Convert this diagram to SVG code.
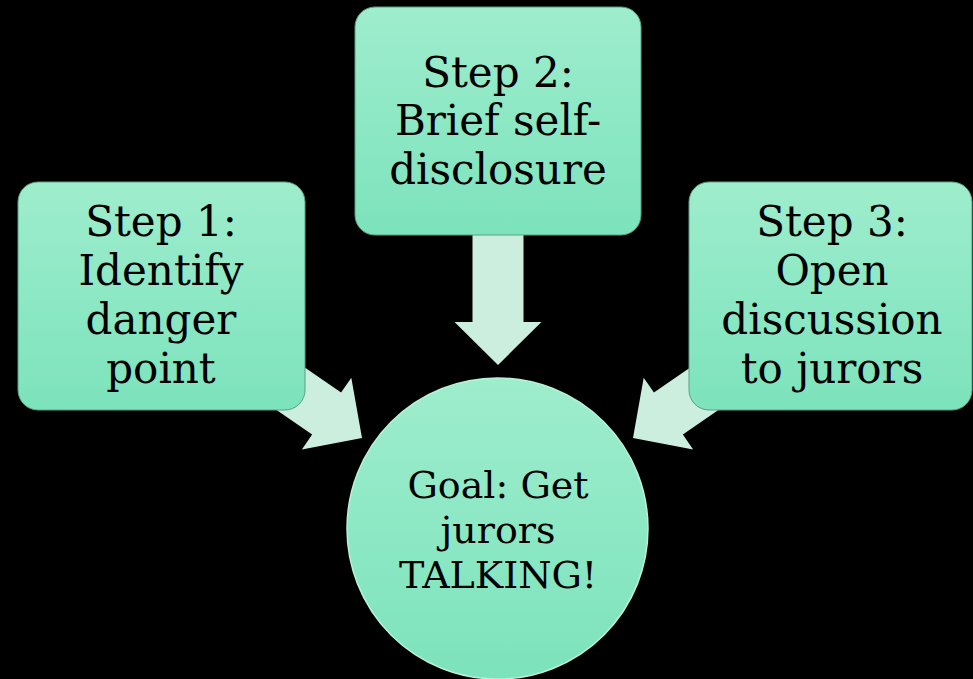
<svg xmlns="http://www.w3.org/2000/svg" width="973" height="679" viewBox="0 0 973 679">
<defs>
<linearGradient id="g" x1="0" y1="0" x2="0" y2="1">
<stop offset="0" stop-color="#9eedcd"/>
<stop offset="1" stop-color="#7ce3bc"/>
</linearGradient>
<path id="arr" d="M0,0 L-43,-43.5 L-43,-25.5 L-190,-25.5 L-190,25.5 L-43,25.5 L-43,43.5 Z"/>
<style>
.box{fill:url(#g);stroke:#5a9e86;stroke-width:1}
.arrow{fill:#cbeedf}
.t{font-family:"DejaVu Serif","Liberation Serif",serif;font-size:42px;fill:#000;text-anchor:middle}
.tg{font-family:"DejaVu Serif","Liberation Serif",serif;font-size:38px;fill:#000;text-anchor:middle}
</style>
</defs>
<rect width="973" height="679" fill="#000"/>
<g id="connectors">
<use href="#arr" class="arrow" transform="translate(498,365) rotate(90)"/>
<use href="#arr" class="arrow" transform="translate(362,438) rotate(34.6)"/>
<use href="#arr" class="arrow" transform="translate(633,438) rotate(145.4)"/>
</g>
<g id="step1">
<rect class="box" x="18" y="182" width="287" height="228" rx="20"/>
<text class="t" x="161" y="236">Step 1:</text>
<text class="t" x="161" y="285">Identify</text>
<text class="t" x="161" y="334">danger</text>
<text class="t" x="161" y="383">point</text>
</g>
<g id="step2">
<rect class="box" x="355" y="7" width="286" height="228" rx="20"/>
<text class="t" x="498" y="87">Step 2:</text>
<text class="t" x="498" y="135">Brief self-</text>
<text class="t" x="498" y="184">disclosure</text>
</g>
<g id="step3">
<rect class="box" x="689" y="182" width="283" height="228" rx="20"/>
<text class="t" x="832" y="236">Step 3:</text>
<text class="t" x="832" y="285">Open</text>
<text class="t" x="832" y="334">discussion</text>
<text class="t" x="832" y="383">to jurors</text>
</g>
<g id="goal">
<circle cx="497.5" cy="528.5" r="150.5" fill="url(#g)" stroke="#b8f2da" stroke-width="1.5"/>
<text class="tg" x="498" y="498">Goal: Get</text>
<text class="tg" x="498" y="543">jurors</text>
<text class="tg" x="498" y="588">TALKING!</text>
</g>
</svg>
